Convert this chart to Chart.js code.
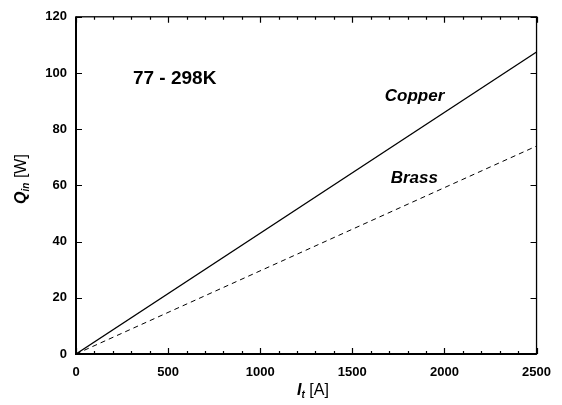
<!DOCTYPE html>
<html lang="en">
<head>
<meta charset="UTF-8" />
<title>Q_in vs I_t, 77 - 298K</title>
<script src="https://cdn.jsdelivr.net/npm/chart.js@4"></script>
<style>
  html, body { margin: 0; padding: 0; background: #fff; }
  #wrap { width: 562px; height: 405px; }
</style>
</head>
<body>
<div id="wrap"><canvas id="myChart" width="562" height="405"></canvas></div>
<script>
  // current I_t [A] and heat load Q_in [W]
  const currents = [0, 2500];
  const copperQ = [0, 107.5];
  const brassQ = [0, 74];
  const xTicks = [0, 500, 1000, 1500, 2000, 2500];
  const yTicks = [0, 20, 40, 60, 80, 100, 120];

  const FONT = '"Liberation Sans", Arial, sans-serif';

  function pts(ys) {
    return currents.map((x, i) => ({ x: x, y: ys[i] }));
  }

  // inward ticks, frame, labels and axis titles with subscripts
  const decor = {
    id: 'decor',
    afterDraw(chart) {
      const ctx = chart.ctx;
      const a = chart.chartArea;
      const xs = chart.scales.x, ys = chart.scales.y;
      ctx.save();
      ctx.strokeStyle = '#000';

      // frame
      ctx.lineWidth = 1.3;
      ctx.strokeRect(a.left, a.top, a.right - a.left, a.bottom - a.top);
      ctx.lineWidth = 2;
      ctx.beginPath();
      ctx.moveTo(a.left, a.top);
      ctx.lineTo(a.left, a.bottom);
      ctx.lineTo(a.right, a.bottom);
      ctx.stroke();

      // x ticks, minor every 100
      ctx.lineWidth = 1.2;
      ctx.beginPath();
      for (let v = 0; v <= 2500; v += 100) {
        const px = Math.round(xs.getPixelForValue(v)) + 0.5;
        const len = v % 500 === 0 ? 6 : 3;
        ctx.moveTo(px, a.bottom); ctx.lineTo(px, a.bottom - len);
        ctx.moveTo(px, a.top); ctx.lineTo(px, a.top + len);
      }
      yTicks.forEach(v => {
        const py = Math.round(ys.getPixelForValue(v)) + 0.5;
        ctx.moveTo(a.left, py); ctx.lineTo(a.left + 6, py);
        ctx.moveTo(a.right, py); ctx.lineTo(a.right - 6, py);
      });
      ctx.stroke();

      // in-plot labels
      ctx.fillStyle = '#000';
      ctx.textBaseline = 'middle';
      ctx.textAlign = 'left';
      ctx.font = 'bold 19px ' + FONT;
      ctx.fillText('77 - 298K', xs.getPixelForValue(309), ys.getPixelForValue(98));
      ctx.font = 'italic bold 17px ' + FONT;
      ctx.fillText('Copper', xs.getPixelForValue(1676), ys.getPixelForValue(91.8));
      ctx.fillText('Brass', xs.getPixelForValue(1708), ys.getPixelForValue(62.6));

      // axis titles: main letter, subscript, unit
      function title(cx, cy, rot, main, sub, unit) {
        ctx.save();
        ctx.translate(cx, cy);
        ctx.rotate(rot);
        const fMain = 'italic bold 16px ' + FONT;
        const fSub = 'italic bold 10px ' + FONT;
        const fUnit = '16px ' + FONT;
        ctx.font = fMain; const w1 = ctx.measureText(main).width;
        ctx.font = fSub; const w2 = ctx.measureText(sub).width;
        ctx.font = fUnit; const w3 = ctx.measureText(unit).width;
        let x = -(w1 + w2 + w3) / 2;
        ctx.textAlign = 'left';
        ctx.textBaseline = 'alphabetic';
        ctx.font = fMain; ctx.fillText(main, x, 5); x += w1;
        ctx.font = fSub; ctx.fillText(sub, x, 8); x += w2;
        ctx.font = fUnit; ctx.fillText(unit, x, 5);
        ctx.restore();
      }
      title(313, 390, 0, 'I', 't', ' [A]');
      title(21, 179, -Math.PI / 2, 'Q', 'in', ' [W]');
      ctx.restore();
    }
  };

  const ctx = document.getElementById('myChart').getContext('2d');
  new Chart(ctx, {
    type: 'line',
    data: {
      datasets: [
        {
          label: 'Copper',
          data: pts(copperQ),
          borderColor: '#000',
          borderWidth: 1.3,
          pointRadius: 0,
          fill: false
        },
        {
          label: 'Brass',
          data: pts(brassQ),
          borderColor: '#000',
          borderWidth: 1,
          borderDash: [5, 4],
          pointRadius: 0,
          fill: false
        }
      ]
    },
    options: {
      responsive: false,
      animation: false,
      layout: { padding: { left: 0, top: 13, right: 25, bottom: 0 } },
      plugins: { legend: { display: false }, tooltip: { enabled: false } },
      scales: {
        x: {
          type: 'linear',
          min: 0, max: 2500,
          afterFit: s => { s.height = 51; },
          afterBuildTicks: s => { s.ticks = xTicks.map(v => ({ value: v })); },
          grid: { display: false, drawTicks: false },
          border: { display: false },
          ticks: {
            color: '#000', padding: 11,
            font: { family: FONT, size: 13, weight: 'bold' },
            callback: v => String(v)
          }
        },
        y: {
          min: 0, max: 120,
          afterFit: s => { s.width = 76; },
          afterBuildTicks: s => { s.ticks = yTicks.map(v => ({ value: v })); },
          grid: { display: false, drawTicks: false },
          border: { display: false },
          ticks: {
            color: '#000', padding: 9,
            font: { family: FONT, size: 13, weight: 'bold' },
            callback: v => String(v)
          }
        }
      }
    },
    plugins: [decor]
  });
</script>
</body>
</html>
